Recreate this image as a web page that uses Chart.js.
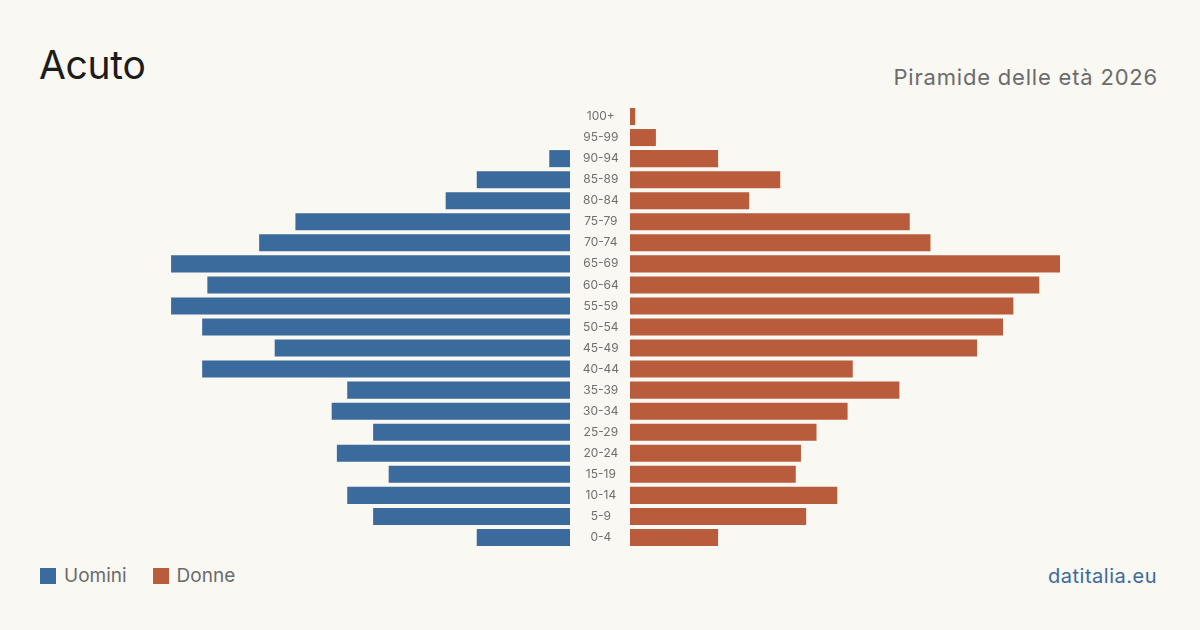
<!DOCTYPE html>
<html>
<head>
<meta charset="utf-8">
<script src="https://cdn.jsdelivr.net/npm/chart.js@4/dist/chart.umd.min.js"></script>
<style>
  html, body { margin: 0; padding: 0; }
  body { width: 1200px; height: 630px; background: #faf8f3; position: relative; overflow: hidden; font-family: Inter, "Noto Sans", sans-serif; }
  #title { position: absolute; left: 39px; top: 40px; font-size: 39px; color: #1c1c1c; line-height: 50px; letter-spacing: -0.3px; }
  #subtitle { position: absolute; right: 42px; top: 62px; font-size: 22px; color: #6b6b6b; line-height: 30px; letter-spacing: 0.8px; }
  #legend { position: absolute; left: 40px; top: 564px; font-size: 19px; color: #6b6b6b; line-height: 24px; display: flex; align-items: center; }
  .sw { display: inline-block; width: 16px; height: 16px; margin-right: 8px; }
  .item { display: flex; align-items: center; margin-right: 26px; }
  #source { position: absolute; right: 43px; top: 563px; font-size: 20px; color: #3b6a9c; line-height: 26px; letter-spacing: 0.5px; }
  #left { position: absolute; left: 140px; top: 106px; width: 430px; height: 442px; }
  #right { position: absolute; left: 570px; top: 106px; width: 490px; height: 442px; }
</style>
</head>
<body>
<div id="title">Acuto</div>
<div id="subtitle">Piramide delle età 2026</div>
<div id="legend">
  <div class="item"><span class="sw" style="background:#3b6a9c"></span>Uomini</div>
  <div class="item"><span class="sw" style="background:#b95c3c"></span>Donne</div>
</div>
<div id="source">datitalia.eu</div>
<div id="left"><canvas id="cl"></canvas></div>
<div id="right"><canvas id="cr"></canvas></div>
<script>
const ageGroups = ["100+","95-99","90-94","85-89","80-84","75-79","70-74","65-69","60-64","55-59","50-54","45-49","40-44","35-39","30-34","25-29","20-24","15-19","10-14","5-9","0-4"];
const men   = [0, 0, 4, 18, 24, 53, 60, 77, 70, 77, 71, 57, 71, 43, 46, 38, 45, 35, 43, 38, 18];
const women = [1, 5, 17, 29, 23, 54, 58, 83, 79, 74, 72, 67, 43, 52, 42, 36, 33, 32, 40, 34, 17];
const menColor = "#3b6a9c";
const womenColor = "#b95c3c";
const axisMax = 83;

const labelFont = { family: "Inter, 'Noto Sans', sans-serif", size: 12 };

const common = {
  indexAxis: 'y',
  responsive: true,
  maintainAspectRatio: false,
  animation: false,
  layout: { padding: 0 },
  plugins: { legend: { display: false }, tooltip: { enabled: false } },
};

new Chart(document.getElementById('cl'), {
  type: 'bar',
  data: { labels: ageGroups, datasets: [{ label: 'Uomini', data: men, backgroundColor: menColor, barPercentage: 0.81, categoryPercentage: 1 }] },
  options: Object.assign({}, common, {
    scales: {
      x: { display: false, min: 0, max: axisMax, reverse: true },
      y: { display: false }
    }
  })
});

new Chart(document.getElementById('cr'), {
  type: 'bar',
  data: { labels: ageGroups, datasets: [{ label: 'Donne', data: women, backgroundColor: womenColor, barPercentage: 0.81, categoryPercentage: 1 }] },
  options: Object.assign({}, common, {
    scales: {
      x: { display: false, min: 0, max: axisMax },
      y: {
        grid: { display: false },
        border: { display: false },
        ticks: { color: '#6f6f6f', font: labelFont, crossAlign: 'center', padding: 3, autoSkip: false },
        afterFit: (s) => { s.width = 60; s.paddingTop = 0; s.paddingBottom = 0; }
      }
    }
  })
});
</script>
</body>
</html>
